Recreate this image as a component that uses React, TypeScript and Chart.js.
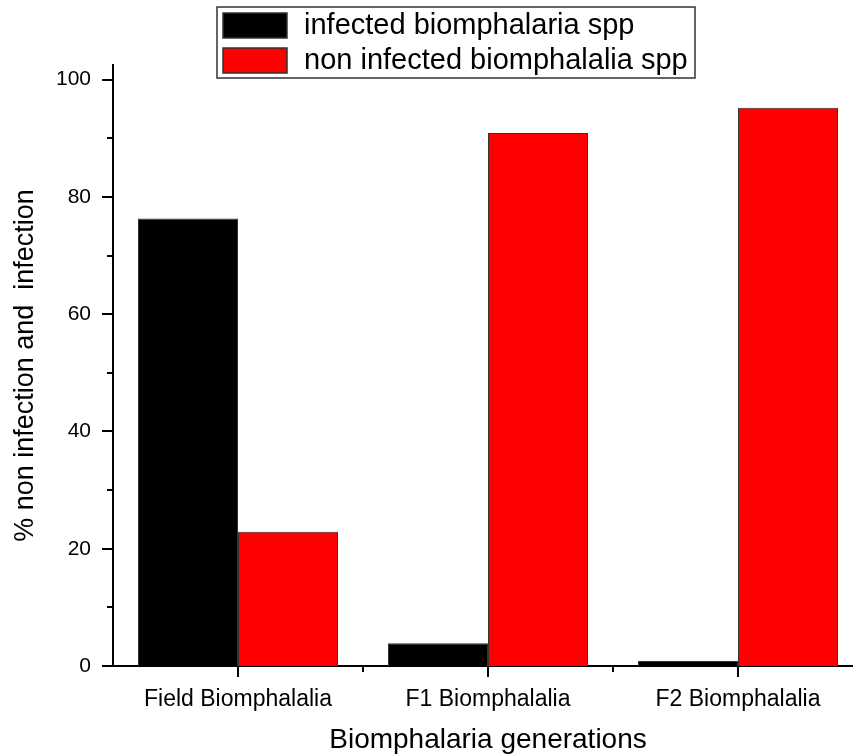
import React, { useEffect, useRef } from "react";
import { Chart, registerables } from "chart.js";

Chart.register(...registerables);

const categories = ["Field Biomphalalia", "F1 Biomphalalia", "F2 Biomphalalia"];
const infected = [76.3, 3.9, 0.85];
const nonInfected = [22.9, 90.9, 95.2];
const seriesLabels = ["infected biomphalaria spp", "non infected biomphalalia spp"];
const seriesColors = ["#000000", "#ff0000"];
const yMajorTicks = [0, 20, 40, 60, 80, 100];
const yMinorTicks = [10, 30, 50, 70, 90];
const xTitle = "Biomphalaria generations";
const yTitle = "% non infection and  infection";

const FONT = "'Liberation Sans', Arial, sans-serif";

const tickPlugin = {
  id: "customTicks",
  afterDraw(chart: any) {
    const ctx = chart.ctx;
    const y = chart.scales.y;
    const x = chart.scales.x;
    ctx.save();
    ctx.strokeStyle = "#000";
    ctx.lineWidth = 2;
    ctx.beginPath();
    const left = chart.chartArea.left;
    yMajorTicks.forEach((v) => {
      const py = Math.round(y.getPixelForValue(v));
      ctx.moveTo(left - 11, py);
      ctx.lineTo(left, py);
    });
    yMinorTicks.forEach((v) => {
      const py = Math.round(y.getPixelForValue(v));
      ctx.moveTo(left - 6, py);
      ctx.lineTo(left, py);
    });
    const bottom = chart.chartArea.bottom;
    categories.forEach((_, i) => {
      const px = Math.round(x.getPixelForValue(i));
      ctx.moveTo(px, bottom);
      ctx.lineTo(px, bottom + 11);
      const pb = Math.round(x.getPixelForValue(i + 0.5));
      ctx.moveTo(pb, bottom);
      ctx.lineTo(pb, bottom + 6);
    });
    ctx.stroke();

    // legend
    const bx = 217, by = 7, bw = 478, bh = 71;
    ctx.fillStyle = "#fff";
    ctx.fillRect(bx, by, bw, bh);
    ctx.lineWidth = 1.5;
    ctx.strokeStyle = "#333";
    ctx.strokeRect(bx, by, bw, bh);
    chart.data.datasets.forEach((ds: any, i: number) => {
      const sy = 13 + i * 35;
      ctx.fillStyle = ds.backgroundColor;
      ctx.fillRect(223, sy, 64, 25);
      ctx.lineWidth = 1.5;
      ctx.strokeStyle = "#333";
      ctx.strokeRect(223, sy, 64, 25);
      ctx.fillStyle = "#000";
      ctx.font = `29px ${FONT}`;
      ctx.textBaseline = "middle";
      ctx.textAlign = "left";
      ctx.fillText(ds.label, 304, sy + 13);
    });
    ctx.restore();
  },
};

export default function App() {
  const ref = useRef<HTMLCanvasElement | null>(null);
  useEffect(() => {
    if (!ref.current) return;
    const chart = new Chart(ref.current, {
      type: "bar",
      data: {
        labels: categories,
        datasets: [
          {
            label: seriesLabels[0],
            data: infected,
            backgroundColor: seriesColors[0],
            borderColor: "#333",
            borderWidth: 1,
            categoryPercentage: 0.8,
            barPercentage: 1.0,
          },
          {
            label: seriesLabels[1],
            data: nonInfected,
            backgroundColor: seriesColors[1],
            borderColor: "#333",
            borderWidth: 1,
            categoryPercentage: 0.8,
            barPercentage: 1.0,
          },
        ],
      },
      options: {
        animation: false,
        responsive: false,
        maintainAspectRatio: false,
        layout: { padding: { top: 65, left: 0, right: 0, bottom: 0 } },
        plugins: { legend: { display: false }, tooltip: { enabled: false } },
        scales: {
          x: {
            type: "category",
            offset: true,
            grid: { display: false },
            border: { display: true, color: "#000", width: 2 },
            ticks: {
              color: "#000",
              font: { family: FONT, size: 23 },
              padding: 12,
              maxRotation: 0,
            },
            title: {
              display: true,
              text: xTitle,
              color: "#000",
              font: { family: FONT, size: 28, lineHeight: 1 },
              padding: { top: 0, bottom: 1 },
            },
            afterFit(scale: any) {
              scale.height = 89;
            },
          },
          y: {
            min: 0,
            max: 102.5,
            grid: { display: false },
            border: { display: true, color: "#000", width: 2 },
            ticks: {
              stepSize: 20,
              includeBounds: false,
              color: "#000",
              font: { family: FONT, size: 21 },
              padding: 14,
            },
            title: {
              display: true,
              text: yTitle,
              color: "#000",
              font: { family: FONT, size: 27, lineHeight: 1.2 },
              padding: { top: 9, bottom: 0 },
            },
            afterFit(scale: any) {
              scale.width = 113;
            },
          },
        },
      },
      plugins: [tickPlugin],
    });
    return () => chart.destroy();
  }, []);
  return (
    <div
      style={{
        position: "fixed",
        left: 0,
        top: 0,
        width: 853,
        height: 755,
        overflow: "hidden",
        background: "#fff",
      }}
    >
      <canvas ref={ref} width={863} height={755} style={{ display: "block", width: 863, height: 755 }} />
    </div>
  );
}
